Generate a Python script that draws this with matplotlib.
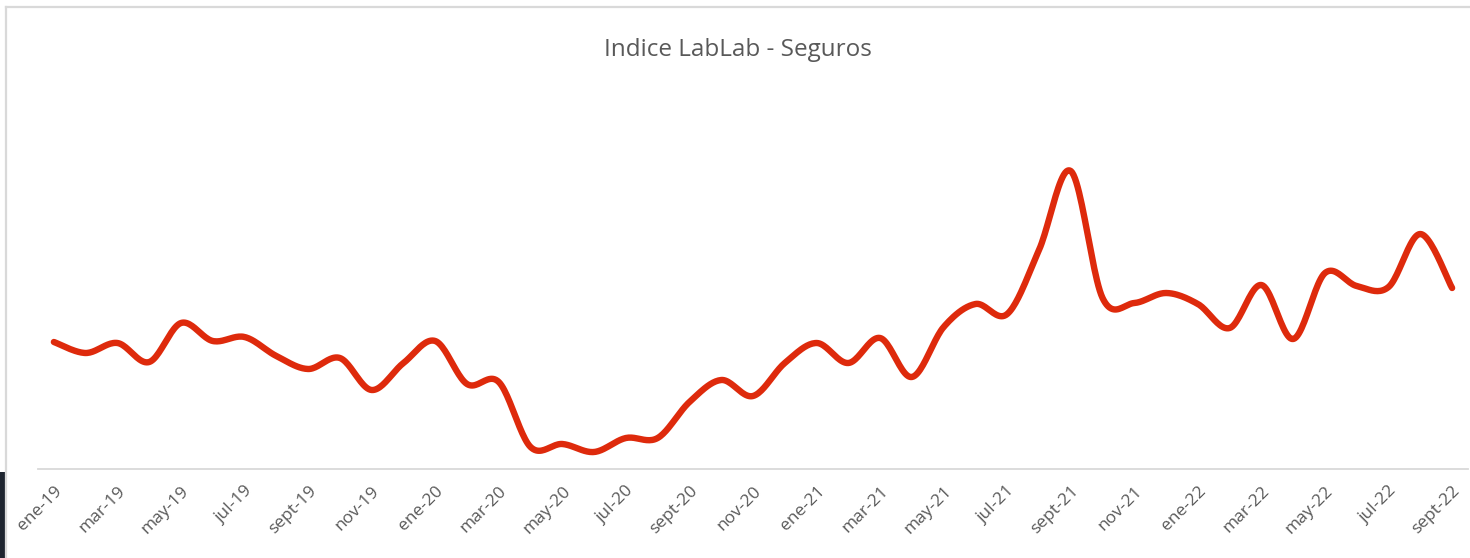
import numpy as np
import matplotlib.pyplot as plt
from matplotlib.lines import Line2D
from matplotlib.patches import Rectangle

# data (index values, arbitrary units)
meses = ['ene', 'feb', 'mar', 'abr', 'may', 'jun', 'jul', 'ago', 'sept', 'oct', 'nov', 'dic']
anios = ['19', '20', '21', '22']
etiquetas = [f'{m}-{a}' for a in anios for m in meses][:45]
indice = [127, 116, 126, 107, 146, 128, 132, 113, 100, 111, 79, 106,
          128, 85, 87, 22, 25, 17, 31, 31, 67, 89, 73, 106,
          126, 106, 131, 92, 142, 165, 155, 219, 298, 171, 166, 176,
          165, 141, 184, 130, 196, 183, 182, 235, 181]

plt.rcParams['font.family'] = ['Open Sans', 'DejaVu Sans']


def suavizar(x, y, n=24):
    # excel-like smoothed line: cubic bezier with catmull-rom control points
    x = np.asarray(x, float)
    y = np.asarray(y, float)
    px = np.concatenate([[x[0]], x, [x[-1]]])
    py = np.concatenate([[y[0]], y, [y[-1]]])
    t = np.linspace(0, 1, n)[:, None]
    xs, ys = [], []
    for i in range(len(x) - 1):
        p0 = np.array([px[i + 1], py[i + 1]])
        p3 = np.array([px[i + 2], py[i + 2]])
        p1 = p0 + (p3 - np.array([px[i], py[i]])) / 6
        p2 = p3 - (np.array([px[i + 3], py[i + 3]]) - p0) / 6
        b = ((1 - t) ** 3) * p0 + 3 * ((1 - t) ** 2) * t * p1 + 3 * (1 - t) * t ** 2 * p2 + t ** 3 * p3
        xs.append(b[:, 0])
        ys.append(b[:, 1])
    return np.concatenate(xs), np.concatenate(ys)


W, H = 1470, 558
fig = plt.figure(figsize=(W / 100, H / 100), dpi=100)
ax = fig.add_axes([38 / W, 89 / H, 1430 / W, 389 / H])

x = np.arange(len(indice))
sx, sy = suavizar(x, indice)
ax.plot(sx, sy, color='#DE2A0C', lw=4.6, solid_capstyle='round', solid_joinstyle='round')

ax.set_xlim(-0.5, len(indice) - 0.5)
ax.set_ylim(0, 389)
ax.set_xticks(x[::2])
ax.set_xticklabels(etiquetas[::2], rotation=45, ha='right', rotation_mode='anchor',
                   fontsize=12.5, color='#595959')
ax.tick_params(axis='x', length=0, pad=10)
ax.set_yticks([])
for s in ['top', 'right', 'left']:
    ax.spines[s].set_visible(False)
ax.spines['bottom'].set_color('#D9D9D9')
ax.spines['bottom'].set_linewidth(1.3)

fig.text(738 / W, 1 - 50 / H, 'Indice LabLab - Seguros', ha='center', va='center',
         fontsize=17.5, color='#595959')

# chart frame and the dark corner of the screenshot
fig.add_artist(Line2D([5.5 / W, 5.5 / W], [0, 1 - 6.5 / H], transform=fig.transFigure,
                      color='#D9D9D9', lw=1.6))
fig.add_artist(Line2D([5.5 / W, 1], [1 - 6.5 / H, 1 - 6.5 / H], transform=fig.transFigure,
                      color='#D9D9D9', lw=1.6))
fig.add_artist(Rectangle((0, 0), 4.5 / W, 86 / H, transform=fig.transFigure,
                         color='#1E2530', lw=0))

fig.savefig('out.png', dpi=100)
